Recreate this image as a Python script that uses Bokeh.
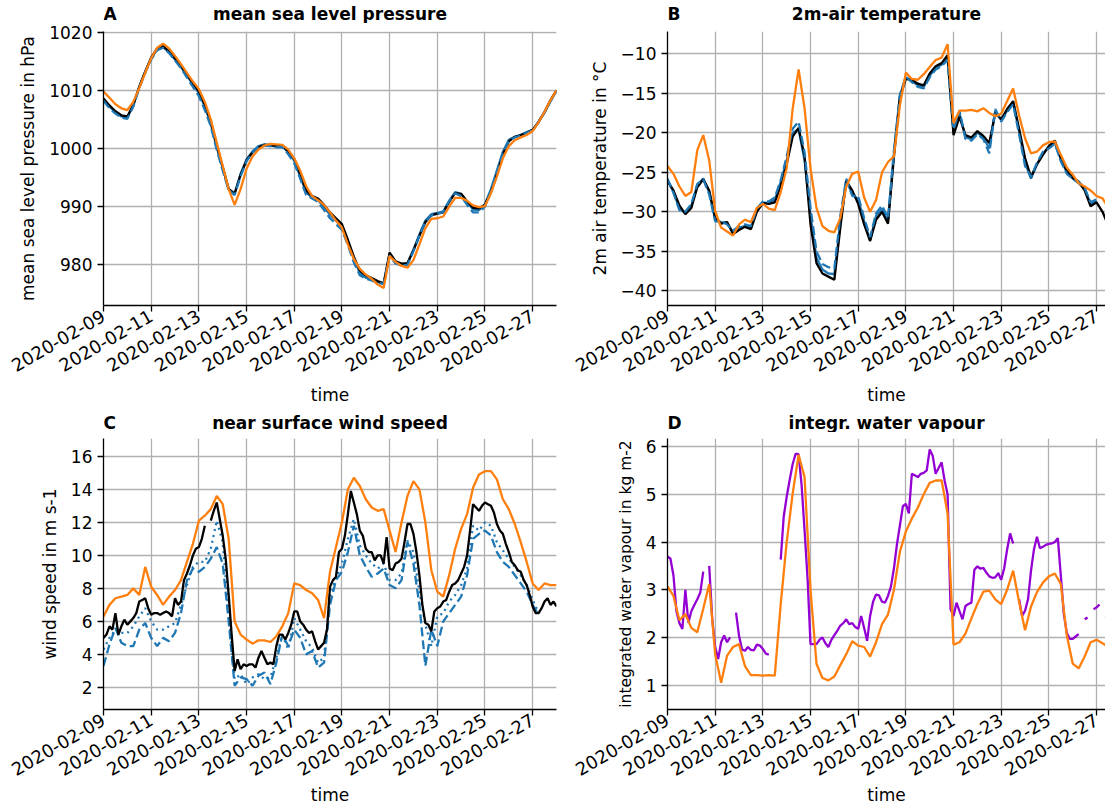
import math
import numpy as np
import pandas as pd
from bokeh.plotting import figure
from bokeh.layouts import column, row
from bokeh.models import Range1d, FixedTicker, DatetimeTickFormatter
from bokeh.core.properties import value
from bokeh.embed import file_html
from bokeh.resources import INLINE

# ---------------- data ----------------
t_start = "2020-02-09"
t_end_left = "2020-02-28 00:00"
t_end_right = "2020-02-27 09:00"
date_ticks = ["2020-02-09", "2020-02-11", "2020-02-13", "2020-02-15", "2020-02-17",
              "2020-02-19", "2020-02-21", "2020-02-23", "2020-02-25", "2020-02-27"]
step_coarse_h = 6
step_fine_h = 3

# A: mean sea level pressure (hPa), 6-hourly
mslp_black = [1008.6, 1007.4, 1006.4, 1005.7, 1005.5, 1007.5, 1010.6, 1013.2,
              1015.6, 1017.2, 1017.6, 1016.7, 1015.5, 1014.2, 1012.7, 1011.2,
              1009.8, 1007.5, 1004.6, 1000.5, 996.8, 993.0, 992.2, 995.5,
              998.0, 999.3, 1000.2, 1000.6, 1000.6, 1000.4, 1000.5, 999.5,
              998.2, 995.5, 992.8, 991.8, 991.4, 990.3, 989.0, 988.0,
              987.0, 984.3, 981.4, 979.0, 978.2, 977.7, 977.2, 976.8,
              982.1, 980.6, 980.2, 980.3, 982.5, 985.0, 987.3, 988.5,
              988.8, 989.0, 990.8, 992.3, 992.2, 990.9, 989.8, 989.7,
              990.3, 992.5, 995.5, 999.0, 1001.2, 1002.0, 1002.3, 1002.7,
              1003.2, 1004.6, 1006.3, 1008.3, 1010.0]
mslp_orange = [1009.8, 1008.7, 1007.6, 1006.9, 1006.6, 1008.0, 1010.4, 1013.0,
               1015.5, 1017.3, 1018.0, 1017.2, 1015.9, 1014.5, 1013.0, 1011.5,
               1010.2, 1008.0, 1005.0, 1001.0, 997.0, 993.0, 990.3, 993.0,
               996.5, 998.6, 999.8, 1000.5, 1000.8, 1000.7, 1000.6, 999.8,
               998.3, 996.2, 993.5, 991.8, 991.1, 990.3, 989.0, 987.6,
               986.4, 983.5, 981.0, 979.3, 978.3, 977.6, 976.6, 976.0,
               981.5, 980.5, 979.8, 979.5, 980.8, 983.5, 986.3, 987.9,
               988.0, 988.3, 990.0, 991.5, 991.5, 991.0, 990.2, 989.9,
               990.1, 992.3, 995.2, 998.3, 1000.4, 1001.4, 1001.9, 1002.3,
               1003.0, 1004.5, 1006.3, 1008.3, 1010.0]
mslp_blue = [1008.4, 1007.2, 1006.2, 1005.5, 1005.3, 1007.4, 1010.6, 1013.2,
             1015.5, 1017.0, 1017.4, 1016.5, 1015.3, 1014.0, 1012.5, 1011.0,
             1009.5, 1007.2, 1004.2, 1000.2, 996.6, 993.0, 992.3, 995.6,
             998.1, 999.5, 1000.4, 1000.7, 1000.5, 1000.3, 1000.4, 999.3,
             997.9, 995.2, 992.4, 991.6, 991.1, 989.9, 988.6, 987.6,
             986.6, 983.9, 981.0, 978.6, 977.8, 977.4, 977.0, 976.7,
             981.8, 980.4, 980.0, 980.2, 982.6, 985.2, 987.6, 988.7,
             988.9, 989.2, 991.0, 992.5, 992.2, 990.8, 989.5, 989.4,
             990.4, 993.0, 996.2, 999.4, 1001.5, 1002.0, 1002.3, 1002.8,
             1003.2, 1004.5, 1006.2, 1008.2, 1009.9]
mslp_blue_dash = [1008.2, 1006.9, 1006.0, 1005.3, 1005.1, 1007.2, 1010.4, 1013.0,
                  1015.3, 1016.9, 1017.3, 1016.4, 1015.1, 1013.8, 1012.2, 1010.6,
                  1009.0, 1006.6, 1003.8, 999.8, 996.2, 992.8, 992.0, 995.2,
                  997.8, 999.3, 1000.3, 1000.5, 1000.4, 1000.2, 1000.2, 999.0,
                  997.5, 994.8, 992.0, 991.4, 990.8, 989.4, 988.0, 987.0,
                  986.0, 983.4, 980.4, 978.2, 977.6, 977.3, 976.9, 976.7,
                  981.6, 980.2, 979.9, 980.0, 982.3, 985.0, 987.4, 988.5,
                  988.8, 989.1, 991.0, 992.3, 991.8, 990.3, 989.0, 989.0,
                  990.0, 992.8, 996.0, 999.2, 1001.3, 1001.9, 1002.2, 1002.7,
                  1003.1, 1004.5, 1006.2, 1008.1, 1009.8]

# B: 2m air temperature (degC), 6-hourly
t2m_black = [-26.1, -27.3, -29.2, -30.3, -29.5, -26.9, -25.9, -27.3,
             -30.8, -31.5, -31.3, -32.8, -32.3, -31.9, -32.2, -30.0,
             -28.9, -29.0, -28.8, -26.7, -24.0, -20.5, -19.4, -23.0,
             -31.6, -36.5, -37.8, -38.2, -38.6, -32.0, -26.1, -27.3,
             -29.0, -31.6, -33.7, -31.0, -30.0, -31.5, -23.0, -15.5,
             -13.2, -13.3, -13.8, -14.0, -12.5, -11.6, -11.2, -10.2,
             -20.3, -18.0, -20.3, -20.6, -19.8, -20.4, -21.3, -17.5,
             -18.3, -17.0, -16.0, -19.5, -23.2, -25.6, -24.0, -22.8,
             -21.7, -21.0, -23.2, -24.8, -25.7, -26.2, -27.3, -29.3,
             -28.8, -30.0, -31.8, -32.6]
t2m_orange = [-24.2, -25.2, -26.8, -28.0, -27.5, -22.2, -20.3, -23.5,
              -29.9, -32.0, -32.5, -33.0, -31.6, -31.0, -31.3, -29.5,
              -29.0, -29.6, -29.8, -27.5, -24.5, -17.0, -12.0, -16.9,
              -24.5, -29.5, -31.8, -32.4, -32.6, -30.8, -26.8, -25.2,
              -24.9, -28.2, -30.0, -28.5, -25.0, -23.7, -23.0, -16.5,
              -12.4, -13.2, -13.3, -12.6, -11.7, -10.8, -10.5, -8.8,
              -18.8, -17.2, -17.2, -17.1, -17.3, -16.9, -17.5, -17.9,
              -17.6, -16.0, -14.4, -17.8, -20.7, -22.6, -22.4, -21.6,
              -21.2, -21.1, -22.8, -24.4, -25.3, -26.4, -26.8, -27.3,
              -28.0, -28.3, -29.5, -30.5]
t2m_blue = [-26.0, -27.5, -29.6, -30.2, -29.2, -26.6, -25.8, -27.5,
            -31.0, -31.3, -31.4, -32.6, -32.0, -31.8, -32.0, -29.8,
            -28.8, -28.9, -28.5, -26.2, -23.5, -20.0, -19.6, -23.5,
            -30.5, -35.8, -37.3, -37.8, -37.9, -31.5, -26.0, -27.8,
            -28.4, -31.2, -33.6, -30.5, -29.6, -31.2, -22.5, -15.3,
            -13.0, -13.5, -14.0, -14.2, -12.8, -11.8, -11.4, -10.6,
            -20.0, -17.5, -20.6, -20.8, -20.0, -20.6, -22.0, -17.2,
            -18.4, -17.2, -16.2, -19.8, -23.8, -25.8, -24.0, -22.6,
            -21.8, -21.2, -23.4, -25.0, -25.8, -26.4, -27.0, -29.0,
            -28.6]
t2m_blue_dash = [-25.8, -27.6, -29.8, -30.0, -29.0, -26.5, -25.9, -27.8,
                 -31.2, -31.2, -31.6, -32.4, -31.8, -31.6, -31.8, -29.6,
                 -28.7, -28.7, -28.2, -26.0, -23.0, -19.5, -18.6, -22.5,
                 -29.5, -35.0, -36.6, -37.0, -37.2, -30.5, -25.8, -28.0,
                 -28.0, -30.8, -33.2, -30.2, -29.2, -30.8, -22.3, -15.2,
                 -12.9, -13.6, -14.2, -14.4, -13.0, -12.0, -11.6, -10.8,
                 -19.6, -17.2, -20.8, -21.0, -20.2, -20.8, -22.6, -17.0,
                 -18.6, -17.4, -16.4, -20.2, -24.2, -25.6, -23.8, -22.4,
                 -22.0, -21.4, -23.6, -25.2, -25.8, -26.2, -27.0, -28.8,
                 -28.4]

# C: near surface wind speed (m/s)
ws_black_3h = [5.0, 5.2, 5.7, 5.5, 6.5, 5.2, 5.7, 6.1,
               5.8, 6.0, 6.2, 6.5, 7.2, 7.3, 7.4, 6.8,
               6.4, 6.5, 6.5, 6.4, 6.5, 6.6, 6.5, 6.3,
               7.4, 7.0, 7.2, 8.5, 8.9, 9.4, 10.0, 10.4,
               10.5, 11.0, 11.8, None, 12.1, 12.7, 13.2, 12.2,
               11.2, 9.8, 7.6, 5.2, 3.0, 3.7, 3.1, 3.4,
               3.3, 3.4, 3.4, 3.2, 3.8, 4.2, 3.8, 3.4,
               3.5, 3.4, 4.5, 5.2, 5.2, 4.9, 5.3, 5.8,
               6.6, 6.6, 6.0, 5.8, 5.5, 5.3, 5.4, 4.8,
               4.3, 4.5, 4.7, 5.5, 8.1, 8.5, 8.7, 10.2,
               10.4, 11.2, 12.5, 13.9, 13.2, 12.5, 11.5, 11.2,
               10.4, 10.2, 10.2, 9.7, 10.0, 10.0, 9.5, 11.1,
               9.2, 9.1, 9.5, 9.6, 9.8, 10.8, 11.9, 11.9,
               11.3, 10.2, 8.8, 7.0, 5.9, 5.8, 5.4, 6.6,
               6.8, 6.9, 7.2, 7.3, 7.8, 8.2, 8.3, 8.5,
               8.9, 9.3, 10.0, 11.5, 13.1, 12.9, 12.7, 13.0,
               13.2, 13.1, 13.0, 12.6, 11.9, 11.5, 11.3, 10.7,
               10.2, 9.6, 9.4, 9.1, 9.0, 8.5, 8.2, 7.6,
               6.9, 6.5, 6.5, 6.8, 7.2, 7.4, 7.0, 7.2,
               6.9]
ws_orange = [6.3, 7.0, 7.4, 7.5, 7.6, 8.0, 7.6, 9.3,
             8.1, 7.6, 7.0, 7.5, 7.9, 8.5, 9.6, 10.7,
             12.1, 12.4, 12.8, 13.6, 13.1, 11.0, 6.0, 5.2,
             4.9, 4.65, 4.85, 4.85, 4.75, 5.1, 5.7, 6.5,
             8.3, 8.2, 7.9, 7.7, 7.3, 6.2, 9.0, 10.5,
             12.0, 14.0, 14.7, 14.2, 13.4, 12.9, 12.7, 12.8,
             11.5, 10.2, 12.0, 13.6, 14.5, 14.0, 12.0, 9.1,
             7.8, 7.5, 8.8, 10.4, 11.6, 12.5, 14.1, 14.9,
             15.1, 15.1, 14.6, 13.4, 12.8, 11.9, 10.8, 9.6,
             8.3, 7.9, 8.3, 8.2, 8.2]
ws_blue_dot = [4.3, 5.0, 5.5, 5.3, 5.3, 5.7, 6.3, 6.8,
               6.0, 5.5, 5.5, 5.7, 5.9, 7.0, 8.2, 9.3,
               9.6, 9.6, 10.4, 12.1, 10.8, 6.5, 2.5, 2.8,
               2.2, 2.6, 2.8, 2.5, 2.6, 3.8, 5.2, 4.3,
               6.2, 5.5, 4.8, 4.4, 3.5, 3.8, 7.5, 8.6,
               9.5, 11.0, 12.2, 10.6, 10.0, 9.5, 9.2, 9.5,
               8.5, 8.5, 8.9, 10.9, 10.2, 7.8, 5.8, 4.5,
               6.3, 6.5, 7.2, 7.6, 8.2, 9.2, 11.8, 11.5,
               12.0, 11.8, 10.8, 10.3, 9.8, 9.3, 8.8, 8.2,
               7.3, 6.5]
ws_blue_dash = [3.3, 4.6, 5.6, 4.7, 4.5, 4.5, 5.5, 5.9,
                5.0, 4.5, 5.0, 4.8, 5.3, 6.5, 8.5, 9.2,
                9.0, 9.3, 9.8, 10.5, 9.5, 6.0, 2.1, 2.6,
                2.5, 2.1, 2.7, 2.9, 2.2, 3.5, 5.2, 4.5,
                5.5, 5.0, 4.0, 4.2, 3.2, 3.5, 7.0, 8.5,
                9.0, 10.2, 11.8, 10.0, 9.3, 8.7, 8.9, 9.2,
                8.2, 8.0, 8.5, 10.8, 9.5, 7.0, 3.3, 5.5,
                4.5, 6.0, 6.5, 7.0, 7.5, 8.8, 11.0, 11.3,
                11.5, 11.2, 10.2, 9.6, 9.3, 8.8, 8.3, 7.8,
                7.0, 6.4]

# D: integrated water vapour (kg m-2)
iwv_purple_3h = [3.70, 3.65, 3.30, 2.55, 2.30, 2.18, 3.00, 2.31,
                 2.55, 2.68, 2.80, 2.94, 3.38, None, 3.50, 2.40,
                 1.80, 1.55, 1.90, 2.04, 1.90, 2.00, None, 2.52,
                 2.04, 1.75, 1.72, 1.80, 1.74, 1.73, 1.85, 1.83,
                 1.76, 1.66, 1.64, None, None, None, 3.63, 4.53,
                 4.95, 5.30, 5.63, 5.85, 5.84, 5.20, 4.25, 3.25,
                 1.86, 1.86, 1.86, 1.95, 2.00, 1.88, 1.80, 1.95,
                 2.05, 2.14, 2.25, 2.30, 2.38, 2.28, 2.30, 2.22,
                 2.18, 2.45, 2.20, 1.93, 2.45, 2.75, 2.90, 2.88,
                 2.75, 2.73, 2.87, 3.07, 3.45, 3.95, 4.35, 4.75,
                 4.80, 4.60, 5.43, 5.40, 5.36, 5.43, 5.45, 5.50,
                 5.94, 5.81, 5.43, 5.55, 5.67, 5.29, 5.00, 2.59,
                 2.45, 2.73, 2.55, 2.38, 2.66, 2.70, 2.73, 3.42,
                 3.49, 3.44, 3.46, 3.36, 3.28, 3.25, 3.26, 3.35,
                 3.21, 3.45, 3.85, 4.18, 3.97, None, 2.80, 2.45,
                 2.56, 2.80, 3.40, 3.85, 4.11, 3.87, 3.90, 3.94,
                 3.96, 3.97, 4.00, 4.08, 3.30, 2.50, 2.10, 1.97,
                 1.97, 2.02, 2.07, None, 2.38, 2.42, None, 2.59,
                 2.63, 2.69, None, 2.45, 2.38, 2.42, 2.40]
iwv_orange = [3.07, 2.87, 2.36, 2.49, 2.20, 2.11, 2.60, 3.12,
              1.65, 1.05, 1.62, 1.80, 1.86, 1.40, 1.21, 1.21,
              1.20, 1.21, 1.20, 2.70, 4.00, 5.01, 5.83, 5.36,
              3.00, 1.45, 1.15, 1.10, 1.18, 1.42, 1.65, 1.92,
              1.83, 1.80, 1.60, 1.90, 2.28, 2.48, 3.00, 3.80,
              4.22, 4.49, 4.72, 5.00, 5.24, 5.29, 5.29, 4.60,
              1.85, 1.90, 2.08, 2.40, 2.70, 2.96, 2.98, 2.80,
              2.70, 3.00, 3.40, 2.75, 2.15, 2.65, 2.95, 3.15,
              3.28, 3.34, 3.12, 2.05, 1.45, 1.35, 1.60, 1.90,
              1.95, 1.88, 1.80, 1.69]

# ---------------- styling ----------------
FONT = "DejaVu Sans"
FS = "17px"
FS_X = "18px"
BLACK = "#000000"
BLUE = "#1f77b4"
ORANGE = "#ff7f0e"
PURPLE = "#9400d3"
LW = 2.3
HEADER_H = 23


def ms(ts):
    return pd.Timestamp(ts).value / 1e6


def times(n, step_h):
    return pd.Timestamp(t_start) + pd.to_timedelta(np.arange(n) * step_h, unit="h")


def series(vals):
    return np.array([np.nan if v is None else v for v in vals], dtype=float)


def make_header(width, xr, letter, title, mb_left, mb_right):
    h = figure(width=width, height=HEADER_H, x_range=xr, y_range=Range1d(0, 1),
               output_backend="svg", toolbar_location=None, title_location=None,
               x_axis_location=None, y_axis_location=None,
               min_border_left=mb_left, min_border_right=mb_right,
               min_border_top=0, min_border_bottom=0)
    h.outline_line_color = None
    h.grid.visible = False
    x0 = xr.start
    xm = (xr.start + xr.end) / 2
    h.text(x=[x0], y=[0], text=[letter], text_font=value(FONT), text_font_size=FS,
           text_font_style="bold", text_align="left", text_baseline="bottom", text_color="black")
    h.text(x=[xm], y=[0], text=[title], text_font=value(FONT), text_font_size=FS,
           text_font_style="bold", text_align="center", text_baseline="bottom", text_color="black")
    return h


def make_fig(width, height, x_end, y_lo, y_hi, yticks, ylabel, letter, title,
             mb_left, mb_right, mb_top, mb_bottom, xlabel_standoff, yunicode=False,
             ylabel_size=FS):
    xr = Range1d(ms(t_start), ms(x_end))
    p = figure(width=width, height=height, x_axis_type="datetime",
               x_range=xr, y_range=Range1d(y_lo, y_hi),
               output_backend="svg", toolbar_location=None, title_location=None,
               min_border_left=mb_left, min_border_right=mb_right,
               min_border_top=mb_top, min_border_bottom=mb_bottom)
    p.outline_line_color = None
    p.background_fill_color = "white"
    p.border_fill_color = "white"
    p.xaxis.ticker = FixedTicker(ticks=[ms(d) for d in date_ticks])
    fmt = "%Y-%m-%d"
    p.xaxis.formatter = DatetimeTickFormatter(days=fmt, months=fmt, years=fmt, hours=fmt,
                                              hourmin=fmt, minutes=fmt, minsec=fmt,
                                              seconds=fmt, milliseconds=fmt, microseconds=fmt)
    p.xaxis.major_label_orientation = math.pi / 6
    p.xaxis.axis_label = "time"
    p.xaxis.axis_label_standoff = xlabel_standoff
    p.xaxis.major_label_standoff = 3
    p.yaxis.ticker = FixedTicker(ticks=yticks)
    if yunicode:
        p.yaxis.major_label_overrides = {v: ("\u2212" + str(abs(v)) if v < 0 else str(v)) for v in yticks}
    p.yaxis.axis_label = ylabel
    p.yaxis.axis_label_standoff = 8
    p.yaxis.major_label_standoff = 5
    for ax in (p.xaxis[0], p.yaxis[0]):
        ax.major_label_text_font = FONT
        ax.major_label_text_color = "black"
        ax.axis_label_text_font = FONT
        ax.axis_label_text_font_size = FS
        ax.axis_label_text_font_style = "normal"
        ax.axis_label_text_color = "black"
        ax.axis_line_color = "black"
        ax.axis_line_width = 1.3
        ax.major_tick_line_color = "black"
        ax.major_tick_line_width = 1.3
        ax.major_tick_out = 6
        ax.major_tick_in = 0
        ax.minor_tick_out = 0
        ax.minor_tick_in = 0
    p.xaxis.major_label_text_font_size = FS_X
    p.yaxis.major_label_text_font_size = FS
    p.yaxis.axis_label_text_font_size = ylabel_size
    p.grid.grid_line_color = "#b0b0b0"
    p.grid.grid_line_width = 1.3
    header = make_header(width, xr, letter, title, mb_left, mb_right)
    return header, p


# --------------- panels ---------------
LEFT_W, RIGHT_W = 559, 546
ha, pa = make_fig(LEFT_W, 386, t_end_left, 973.0, 1020.1, [980, 990, 1000, 1010, 1020],
                  "mean sea level pressure in hPa", "A", "mean sea level pressure",
                  103, 3, 8, 104, 4)
pa.line(times(len(mslp_blue), step_coarse_h), series(mslp_blue), color=BLUE, line_width=LW)
pa.line(times(len(mslp_black), step_coarse_h), series(mslp_black), color=BLACK, line_width=LW)
pa.line(times(len(mslp_blue_dash), step_coarse_h), series(mslp_blue_dash), color=BLUE,
        line_width=LW, line_dash="9 4")
pa.line(times(len(mslp_orange), step_coarse_h), series(mslp_orange), color=ORANGE, line_width=LW)

hb, pb = make_fig(RIGHT_W, 386, t_end_right, -41.85, -7.2, [-40, -35, -30, -25, -20, -15, -10],
                  "2m air temperature in \u00b0C", "B", "2m-air temperature",
                  108, 0, 8, 104, 4, yunicode=True)
pb.line(times(len(t2m_blue), step_coarse_h), series(t2m_blue), color=BLUE, line_width=LW)
pb.line(times(len(t2m_black), step_coarse_h), series(t2m_black), color=BLACK, line_width=LW)
pb.line(times(len(t2m_blue_dash), step_coarse_h), series(t2m_blue_dash), color=BLUE,
        line_width=LW, line_dash="9 4")
pb.line(times(len(t2m_orange), step_coarse_h), series(t2m_orange), color=ORANGE, line_width=LW)

hc, pc = make_fig(LEFT_W, 376, t_end_left, 0.66, 17.08, [2, 4, 6, 8, 10, 12, 14, 16],
                  "wind speed in m s-1", "C", "near surface wind speed",
                  103, 3, 6, 98, 0)
pc.line(times(len(ws_blue_dash), step_coarse_h), series(ws_blue_dash), color=BLUE,
        line_width=LW, line_dash="9 4")
pc.line(times(len(ws_blue_dot), step_coarse_h), series(ws_blue_dot), color=BLUE,
        line_width=LW, line_dash="2 4")
pc.line(times(len(ws_black_3h), step_fine_h), series(ws_black_3h), color=BLACK, line_width=LW)
pc.line(times(len(ws_orange), step_coarse_h), series(ws_orange), color=ORANGE, line_width=LW)

hd, pd_ = make_fig(RIGHT_W, 376, t_end_right, 0.49, 6.17, [1, 2, 3, 4, 5, 6],
                   "integrated water vapour in kg m-2", "D", "integr. water vapour",
                   108, 0, 6, 98, 0, ylabel_size="15.5px")
pd_.line(times(len(iwv_purple_3h), step_fine_h), series(iwv_purple_3h), color=PURPLE, line_width=LW)
pd_.line(times(len(iwv_orange), step_coarse_h), series(iwv_orange), color=ORANGE, line_width=LW)

layout = column(row(column(ha, pa), column(hb, pb)), row(column(hc, pc), column(hd, pd_)))
open("out.html", "w").write(file_html(layout, INLINE))
